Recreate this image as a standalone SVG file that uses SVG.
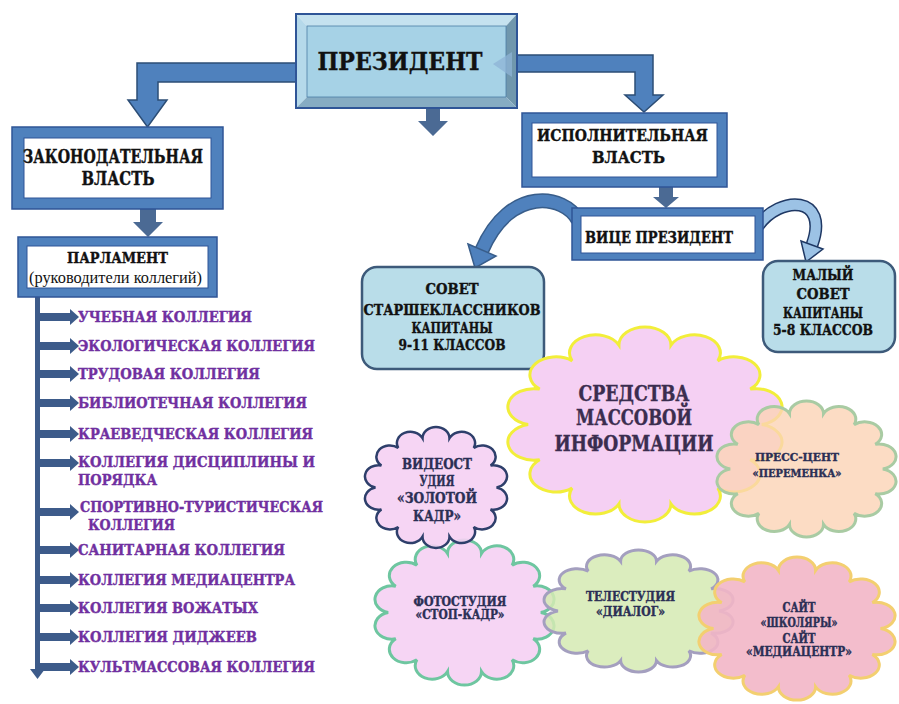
<svg xmlns="http://www.w3.org/2000/svg" xmlns:xlink="http://www.w3.org/1999/xlink" width="899" height="704" viewBox="0 0 899 704">
<style>
.t{font-family:"DejaVu Serif","Liberation Serif",serif;font-weight:bold;fill:#111;stroke:#111;stroke-width:0.4;text-anchor:middle}
.d{fill:#2b2f55;stroke:#2b2f55}
.m{fill:#3b2d4f;stroke:#3b2d4f}
.li{font-family:"DejaVu Serif","Liberation Serif",serif;font-weight:bold;fill:#7030a0;stroke:#7030a0;stroke-width:0.4;font-size:14px}
.frame{fill:#4f81bd;stroke:#2f5597;stroke-width:1.5}
.inner{fill:#fff;stroke:#2f5597;stroke-width:1}
.big{fill:#4f81bd;stroke:#2c4d75;stroke-width:1.5}
.dn{fill:#4b6a94}
.la{fill:#3d5b8a}
.rbox{fill:#b9dde9;stroke:#3d5a7a;stroke-width:2.5}
.cl{vector-effect:non-scaling-stroke}
</style>
<defs>
<path id="cloud" class="cl" d="M90,50 A1,1 0 0 1 86.04,67.36 A1,1 0 0 1 74.94,81.27 A1,1 0 0 1 58.9,89 A1,1 0 0 1 41.1,89 A1,1 0 0 1 25.06,81.27 A1,1 0 0 1 13.96,67.36 A1,1 0 0 1 10,50 A1,1 0 0 1 13.96,32.64 A1,1 0 0 1 25.06,18.73 A1,1 0 0 1 41.1,11 A1,1 0 0 1 58.9,11 A1,1 0 0 1 74.94,18.73 A1,1 0 0 1 86.04,32.64 A1,1 0 0 1 90,50 Z"/>
</defs>
<rect width="899" height="704" fill="#fff"/>

<g id="connectors">
  <polygon class="big" points="297,63 137,63 137,100 128,100 147.5,127 167,100 158,100 158,82 297,82"/>
  <polygon class="big" points="515,55 653,55 653,95 663,95 644,112 625,95 635,95 635,72 515,72"/>
  <polygon class="dn" points="426,108 440,108 440,121 448,121 433,136 418,121 426,121"/>
  <polygon class="dn" points="140,209 156,209 156,222 163,222 148,237 133,222 140,222"/>
  <polygon class="dn" points="659,187 673,187 673,197 679,197 666,208 653,197 659,197"/>
  <path d="M578,220 C565,195 510,185 482,250" fill="none" stroke="#385d8a" stroke-width="15"/>
  <path d="M578,220 C565,195 510,185 482,250" fill="none" stroke="#4f81bd" stroke-width="12"/>
  <polygon points="468,244 496,256 475,268" fill="#4f81bd" stroke="#385d8a" stroke-width="1.5"/>
  <path d="M758,226 C780,195 830,195 812,245" fill="none" stroke="#1f3864" stroke-width="13"/>
  <path d="M758,226 C780,195 830,195 812,245" fill="none" stroke="#9cc2e5" stroke-width="10"/>
  <polygon points="801,241 823,249 806,262" fill="#9cc2e5" stroke="#1f3864" stroke-width="1.5"/>
  <rect class="la" x="35" y="297" width="5" height="374"/>
  <polygon class="la" points="30,669 45,669 37.5,679"/>
  <g class="la">
    <polygon points="40,313 70,313 70,309 79,317 70,325 70,321 40,321"/>
    <polygon points="40,342 70,342 70,338 79,346 70,354 70,350 40,350"/>
    <polygon points="40,370 70,370 70,366 79,374 70,382 70,378 40,378"/>
    <polygon points="40,399 70,399 70,395 79,403 70,411 70,407 40,407"/>
    <polygon points="40,430 70,430 70,426 79,434 70,442 70,438 40,438"/>
    <polygon points="40,459 70,459 70,455 79,463 70,471 70,467 40,467"/>
    <polygon points="40,508 70,508 70,504 79,512 70,520 70,516 40,516"/>
    <polygon points="40,546 70,546 70,542 79,550 70,558 70,554 40,554"/>
    <polygon points="40,576 70,576 70,572 79,580 70,588 70,584 40,584"/>
    <polygon points="40,604 70,604 70,600 79,608 70,616 70,612 40,612"/>
    <polygon points="40,633 70,633 70,629 79,637 70,645 70,641 40,641"/>
    <polygon points="40,663 70,663 70,659 79,667 70,675 70,671 40,671"/>
  </g>
</g>

<g id="president">
  <polygon points="296,14 517,14 506,26 307,26" fill="#c5e2ef"/>
  <polygon points="296,14 307,26 307,97 296,108" fill="#b5d9ea"/>
  <polygon points="517,14 517,108 506,97 506,26" fill="#7097ad"/>
  <polygon points="296,108 307,97 506,97 517,108" fill="#86acc3"/>
  <rect x="307" y="26" width="199" height="71" fill="#a6d2e6" stroke="#4d7ea6" stroke-width="0.8"/>
  <rect x="296" y="14" width="221" height="94" fill="none" stroke="#2f5597" stroke-width="2"/>
  <polygon points="512,52 493,64 512,77" fill="#8db3d6" opacity="0.75"/>
  <text class="t" x="400" y="70" font-size="25" textLength="165" lengthAdjust="spacingAndGlyphs">ПРЕЗИДЕНТ</text>
</g>

<g id="legislative">
  <rect class="frame" x="12" y="127" width="211" height="82"/>
  <rect class="inner" x="24" y="138" width="187" height="60"/>
  <text class="t" x="113" y="163" font-size="18" textLength="180" lengthAdjust="spacingAndGlyphs">ЗАКОНОДАТЕЛЬНАЯ</text>
  <text class="t" x="118" y="185" font-size="18" textLength="73" lengthAdjust="spacingAndGlyphs">ВЛАСТЬ</text>
</g>

<g id="parliament">
  <rect class="frame" x="18" y="237" width="199" height="60"/>
  <rect class="inner" x="27" y="246" width="181" height="42"/>
  <text class="t" x="117.5" y="263" font-size="15.5" textLength="101" lengthAdjust="spacingAndGlyphs">ПАРЛАМЕНТ</text>
  <text x="115.5" y="283" font-family="Liberation Serif, serif" font-size="16" text-anchor="middle" fill="#111" textLength="173" lengthAdjust="spacingAndGlyphs">(руководители коллегий)</text>
</g>

<g id="colleges">
  <text class="li" x="78" y="322" textLength="174" lengthAdjust="spacingAndGlyphs">УЧЕБНАЯ КОЛЛЕГИЯ</text>
  <text class="li" x="78" y="351" textLength="237" lengthAdjust="spacingAndGlyphs">ЭКОЛОГИЧЕСКАЯ КОЛЛЕГИЯ</text>
  <text class="li" x="78" y="379" textLength="182" lengthAdjust="spacingAndGlyphs">ТРУДОВАЯ КОЛЛЕГИЯ</text>
  <text class="li" x="78" y="408" textLength="229" lengthAdjust="spacingAndGlyphs">БИБЛИОТЕЧНАЯ КОЛЛЕГИЯ</text>
  <text class="li" x="78" y="439" textLength="235" lengthAdjust="spacingAndGlyphs">КРАЕВЕДЧЕСКАЯ КОЛЛЕГИЯ</text>
  <text class="li" x="78" y="467" textLength="237" lengthAdjust="spacingAndGlyphs">КОЛЛЕГИЯ ДИСЦИПЛИНЫ И</text>
  <text class="li" x="78" y="485" textLength="79" lengthAdjust="spacingAndGlyphs">ПОРЯДКА</text>
  <text class="li" x="80" y="512" textLength="243" lengthAdjust="spacingAndGlyphs">СПОРТИВНО-ТУРИСТИЧЕСКАЯ</text>
  <text class="li" x="88" y="530" textLength="87" lengthAdjust="spacingAndGlyphs">КОЛЛЕГИЯ</text>
  <text class="li" x="78" y="555" textLength="207" lengthAdjust="spacingAndGlyphs">САНИТАРНАЯ КОЛЛЕГИЯ</text>
  <text class="li" x="78" y="585" textLength="217" lengthAdjust="spacingAndGlyphs">КОЛЛЕГИЯ МЕДИАЦЕНТРА</text>
  <text class="li" x="78" y="613" textLength="180" lengthAdjust="spacingAndGlyphs">КОЛЛЕГИЯ ВОЖАТЫХ</text>
  <text class="li" x="78" y="642" textLength="179" lengthAdjust="spacingAndGlyphs">КОЛЛЕГИЯ ДИДЖЕЕВ</text>
  <text class="li" x="78" y="672" textLength="237" lengthAdjust="spacingAndGlyphs">КУЛЬТМАССОВАЯ КОЛЛЕГИЯ</text>
</g>

<g id="executive">
  <rect class="frame" x="522" y="113" width="205" height="74"/>
  <rect class="inner" x="532" y="123" width="185" height="54"/>
  <text class="t" x="622.5" y="141" font-size="17" textLength="171" lengthAdjust="spacingAndGlyphs">ИСПОЛНИТЕЛЬНАЯ</text>
  <text class="t" x="628.5" y="163" font-size="17" textLength="73" lengthAdjust="spacingAndGlyphs">ВЛАСТЬ</text>
</g>

<g id="vice">
  <rect class="frame" x="572" y="208" width="191" height="52"/>
  <rect class="inner" x="581" y="216" width="174" height="37"/>
  <text class="t" x="659" y="243" font-size="16" textLength="148" lengthAdjust="spacingAndGlyphs">ВИЦЕ ПРЕЗИДЕНТ</text>
</g>

<g id="senior-council">
  <rect class="rbox" x="362" y="267" width="182" height="102" rx="15"/>
  <text class="t" x="452" y="294" font-size="14.5" textLength="53" lengthAdjust="spacingAndGlyphs">СОВЕТ</text>
  <text class="t" x="452" y="315" font-size="14.5" textLength="177" lengthAdjust="spacingAndGlyphs">СТАРШЕКЛАССНИКОВ</text>
  <text class="t" x="452" y="333" font-size="14.5" textLength="81" lengthAdjust="spacingAndGlyphs">КАПИТАНЫ</text>
  <text class="t" x="452" y="350" font-size="14.5" textLength="107" lengthAdjust="spacingAndGlyphs">9-11 КЛАССОВ</text>
</g>

<g id="small-council">
  <rect class="rbox" x="763" y="261" width="132" height="91" rx="15"/>
  <text class="t" x="823" y="280" font-size="14.5" textLength="61" lengthAdjust="spacingAndGlyphs">МАЛЫЙ</text>
  <text class="t" x="823" y="299" font-size="14.5" textLength="53" lengthAdjust="spacingAndGlyphs">СОВЕТ</text>
  <text class="t" x="823" y="318" font-size="14.5" textLength="80" lengthAdjust="spacingAndGlyphs">КАПИТАНЫ</text>
  <text class="t" x="823" y="335" font-size="14.5" textLength="100" lengthAdjust="spacingAndGlyphs">5-8 КЛАССОВ</text>
</g>

<g id="media">
  <use xlink:href="#cloud" href="#cloud" transform="translate(498.9,322.7) scale(2.921,2.035)" fill="#f5d0f3" stroke="#f2ee3a" stroke-width="3"/>
  <text class="t m" x="634" y="401" font-size="22" textLength="111" lengthAdjust="spacingAndGlyphs">СРЕДСТВА</text>
  <text class="t m" x="634" y="425" font-size="22" textLength="116" lengthAdjust="spacingAndGlyphs">МАССОВОЙ</text>
  <text class="t m" x="634" y="451" font-size="22" textLength="159" lengthAdjust="spacingAndGlyphs">ИНФОРМАЦИИ</text>
</g>

<g id="press">
  <use xlink:href="#cloud" href="#cloud" transform="translate(711.1,398) scale(1.908,1.42)" fill="#fbd3b5" fill-opacity="0.8" stroke="#a9cba3" stroke-width="3"/>
  <text class="t d" x="797" y="460.5" font-size="11" textLength="84" lengthAdjust="spacingAndGlyphs">ПРЕСС-ЦЕНТ</text>
  <text class="t d" x="797" y="476.5" font-size="11" textLength="89" lengthAdjust="spacingAndGlyphs">«ПЕРЕМЕНКА»</text>
</g>

<g id="photo">
  <use xlink:href="#cloud" href="#cloud" transform="translate(369.1,536.8) scale(1.908,1.514)" fill="#f5d0f3" fill-opacity="0.9" stroke="#6ec6a0" stroke-width="3"/>
  <text class="t d" x="460" y="605.5" font-size="12" textLength="93" lengthAdjust="spacingAndGlyphs">ФОТОСТУДИЯ</text>
  <text class="t d" x="460" y="618.5" font-size="12" textLength="89" lengthAdjust="spacingAndGlyphs">«СТОП-КАДР»</text>
</g>

<g id="video">
  <use xlink:href="#cloud" href="#cloud" transform="translate(360.3,424.3) scale(1.514,1.263)" fill="#f5d0f3" fill-opacity="0.9" stroke="#2e3f6b" stroke-width="2.5"/>
  <text class="t d" x="437" y="469" font-size="15" textLength="70" lengthAdjust="spacingAndGlyphs">ВИДЕОСТ</text>
  <text class="t d" x="437" y="486" font-size="15" textLength="35" lengthAdjust="spacingAndGlyphs">УДИЯ</text>
  <text class="t d" x="437" y="503" font-size="15" textLength="80" lengthAdjust="spacingAndGlyphs">«ЗОЛОТОЙ</text>
  <text class="t d" x="437" y="521" font-size="15" textLength="48" lengthAdjust="spacingAndGlyphs">КАДР»</text>
</g>

<g id="tv">
  <use xlink:href="#cloud" href="#cloud" transform="translate(537.8,547.3) scale(2.015,1.273)" fill="#d5eab3" fill-opacity="0.85" stroke="#a49fbf" stroke-width="3"/>
  <text class="t d" x="630.5" y="601" font-size="12" textLength="89" lengthAdjust="spacingAndGlyphs">ТЕЛЕСТУДИЯ</text>
  <text class="t d" x="630.5" y="615.5" font-size="12" textLength="69" lengthAdjust="spacingAndGlyphs">«ДИАЛОГ»</text>
</g>

<g id="site">
  <use xlink:href="#cloud" href="#cloud" transform="translate(692.5,553.9) scale(2.09,1.493)" fill="#f2b6c6" fill-opacity="0.9" stroke="#f3cf70" stroke-width="3"/>
  <text class="t d" x="799" y="612" font-size="12" textLength="33" lengthAdjust="spacingAndGlyphs">САЙТ</text>
  <text class="t d" x="799" y="626.5" font-size="12" textLength="77" lengthAdjust="spacingAndGlyphs">«ШКОЛЯРЫ»</text>
  <text class="t d" x="799" y="642.5" font-size="12" textLength="33" lengthAdjust="spacingAndGlyphs">САЙТ</text>
  <text class="t d" x="799" y="656" font-size="12" textLength="106" lengthAdjust="spacingAndGlyphs">«МЕДИАЦЕНТР»</text>
</g>
</svg>
